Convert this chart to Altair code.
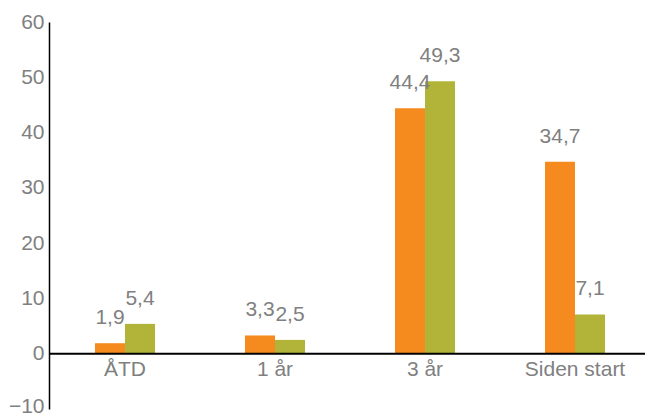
import altair as alt
import pandas as pd

categories = ["ÅTD", "1 år", "3 år", "Siden start"]
series_names = ["Serie 1", "Serie 2"]
series1 = [1.9, 3.3, 44.4, 34.7]
series2 = [5.4, 2.5, 49.3, 7.1]
colors = ["#F58B1F", "#B2B43A"]
y_ticks = [-10, 0, 10, 20, 30, 40, 50, 60]

rows = []
for i, c in enumerate(categories):
    for s, vals in zip(series_names, [series1, series2]):
        rows.append({"cat": c, "serie": s, "value": vals[i],
                     "label": f"{vals[i]:.1f}".replace(".", ",")})
df = pd.DataFrame(rows)

W, H = 596, 387
zero_offset = -H * 10 / 70
FS = 21
GREY = "#808080"

x = alt.X("cat:N", sort=categories, title=None,
          scale=alt.Scale(paddingInner=0.6, paddingOuter=0.2867, align=0.535),
          axis=alt.Axis(labelAngle=0, ticks=False, domain=False, offset=zero_offset,
                        labelFont="Liberation Sans", labelFontSize=FS,
                        labelColor=GREY, labelPadding=5))
xo = alt.XOffset("serie:N", sort=series_names, scale=alt.Scale(paddingInner=0))
y = alt.Y("value:Q", title=None,
          scale=alt.Scale(domain=[-10, 60], nice=False),
          axis=alt.Axis(values=y_ticks, grid=False, ticks=False,
                        domainColor="black", domainWidth=1.5,
                        labelFont="Liberation Sans", labelFontSize=FS,
                        labelColor=GREY, labelPadding=5,
                        labelOffset=alt.condition("datum.value == -10", alt.value(-3), alt.value(0))))

bars = alt.Chart(df).mark_bar().encode(
    x=x, xOffset=xo, y=y,
    color=alt.Color("serie:N", sort=series_names,
                    scale=alt.Scale(domain=series_names, range=colors), legend=None),
)

labels = alt.Chart(df).mark_text(
    font="Liberation Sans", fontSize=FS, color=GREY, baseline="alphabetic", dy=-19
).encode(x=x, xOffset=xo, y=y, text="label:N")

zero = alt.Chart(pd.DataFrame({"z": [0]})).mark_rule(color="black", strokeWidth=2).encode(
    y="z:Q", x=alt.value(0), x2=alt.value(W + 4))

chart = alt.layer(bars, zero, labels).properties(
    width=W, height=H,
    autosize=alt.AutoSizeParams(type="none"),
    padding={"left": 41, "top": 14, "right": 0, "bottom": 8},
).configure_view(stroke=None)

chart.save("out.html", embed_options={"renderer": "svg", "actions": False})
